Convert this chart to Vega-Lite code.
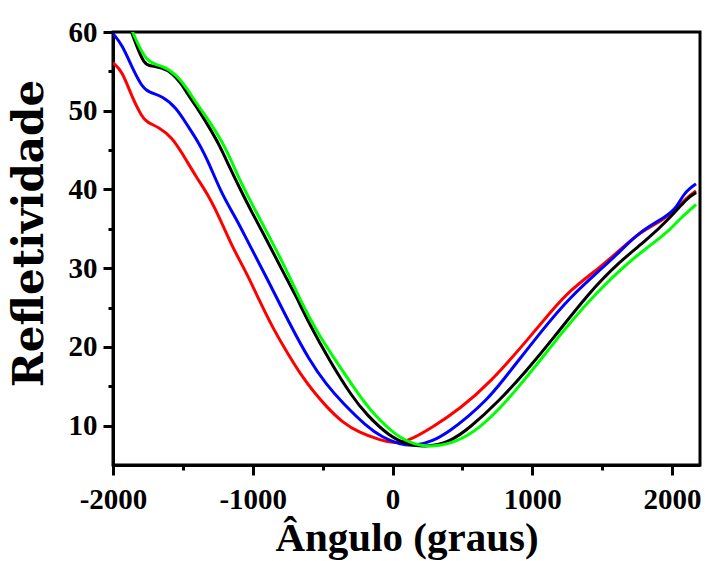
{
  "$schema": "https://vega.github.io/schema/vega-lite/v6.json",
  "width": 587,
  "height": 433,
  "autosize": {"type": "none"},
  "padding": {"left": 113, "top": 32, "right": 5, "bottom": 96},
  "background": "white",
  "config": {
    "view": {"stroke": "black", "strokeWidth": 3},
    "font": "Liberation Serif"
  },
  "data": {
    "values": [
      {"s": "1", "x": -2000, "y": 56.1},
      {"s": "1", "x": -1935, "y": 55.1},
      {"s": "1", "x": -1864, "y": 51.7},
      {"s": "1", "x": -1792, "y": 49.2},
      {"s": "1", "x": -1756, "y": 48.5},
      {"s": "1", "x": -1670, "y": 47.9},
      {"s": "1", "x": -1577, "y": 46.6},
      {"s": "1", "x": -1505, "y": 44.6},
      {"s": "1", "x": -1405, "y": 41.6},
      {"s": "1", "x": -1312, "y": 39.1},
      {"s": "1", "x": -1240, "y": 36.5},
      {"s": "1", "x": -1147, "y": 32.7},
      {"s": "1", "x": -1047, "y": 29.5},
      {"s": "1", "x": -953, "y": 25.9},
      {"s": "1", "x": -860, "y": 22.5},
      {"s": "1", "x": -738, "y": 18.8},
      {"s": "1", "x": -645, "y": 16.2},
      {"s": "1", "x": -573, "y": 14.5},
      {"s": "1", "x": -473, "y": 12.4},
      {"s": "1", "x": -358, "y": 10.4},
      {"s": "1", "x": -237, "y": 9.1},
      {"s": "1", "x": -93, "y": 8.2},
      {"s": "1", "x": 0, "y": 7.8},
      {"s": "1", "x": 100, "y": 7.9},
      {"s": "1", "x": 287, "y": 9.8},
      {"s": "1", "x": 480, "y": 12.1},
      {"s": "1", "x": 695, "y": 15.4},
      {"s": "1", "x": 961, "y": 20.8},
      {"s": "1", "x": 1125, "y": 24.3},
      {"s": "1", "x": 1269, "y": 27.2},
      {"s": "1", "x": 1484, "y": 30.1},
      {"s": "1", "x": 1627, "y": 32.3},
      {"s": "1", "x": 1771, "y": 34.6},
      {"s": "1", "x": 1935, "y": 36.1},
      {"s": "1", "x": 2036, "y": 37.6},
      {"s": "1", "x": 2108, "y": 39.0},
      {"s": "1", "x": 2172, "y": 39.8},

      {"s": "2", "x": -2000, "y": 59.8},
      {"s": "2", "x": -1935, "y": 58.4},
      {"s": "2", "x": -1864, "y": 55.5},
      {"s": "2", "x": -1792, "y": 53.0},
      {"s": "2", "x": -1742, "y": 52.3},
      {"s": "2", "x": -1649, "y": 51.9},
      {"s": "2", "x": -1548, "y": 50.4},
      {"s": "2", "x": -1477, "y": 48.4},
      {"s": "2", "x": -1384, "y": 45.9},
      {"s": "2", "x": -1312, "y": 43.3},
      {"s": "2", "x": -1219, "y": 39.3},
      {"s": "2", "x": -1118, "y": 36.3},
      {"s": "2", "x": -1025, "y": 33.0},
      {"s": "2", "x": -903, "y": 28.9},
      {"s": "2", "x": -738, "y": 23.0},
      {"s": "2", "x": -595, "y": 18.3},
      {"s": "2", "x": -473, "y": 15.2},
      {"s": "2", "x": -358, "y": 12.9},
      {"s": "2", "x": -186, "y": 9.9},
      {"s": "2", "x": -72, "y": 8.5},
      {"s": "2", "x": 50, "y": 7.6},
      {"s": "2", "x": 160, "y": 7.4},
      {"s": "2", "x": 287, "y": 8.0},
      {"s": "2", "x": 409, "y": 9.3},
      {"s": "2", "x": 540, "y": 11.1},
      {"s": "2", "x": 674, "y": 13.3},
      {"s": "2", "x": 767, "y": 15.2},
      {"s": "2", "x": 1082, "y": 22.4},
      {"s": "2", "x": 1269, "y": 26.3},
      {"s": "2", "x": 1505, "y": 30.1},
      {"s": "2", "x": 1627, "y": 32.1},
      {"s": "2", "x": 1771, "y": 34.7},
      {"s": "2", "x": 1964, "y": 36.6},
      {"s": "2", "x": 2036, "y": 37.8},
      {"s": "2", "x": 2079, "y": 39.3},
      {"s": "2", "x": 2130, "y": 40.2},
      {"s": "2", "x": 2172, "y": 40.7},

      {"s": "3", "x": -1900, "y": 61.5},
      {"s": "3", "x": -1871, "y": 60.2},
      {"s": "3", "x": -1835, "y": 58.4},
      {"s": "3", "x": -1778, "y": 56.0},
      {"s": "3", "x": -1742, "y": 55.7},
      {"s": "3", "x": -1649, "y": 55.5},
      {"s": "3", "x": -1577, "y": 54.8},
      {"s": "3", "x": -1513, "y": 53.5},
      {"s": "3", "x": -1455, "y": 51.8},
      {"s": "3", "x": -1384, "y": 50.0},
      {"s": "3", "x": -1312, "y": 47.9},
      {"s": "3", "x": -1240, "y": 45.7},
      {"s": "3", "x": -1168, "y": 42.9},
      {"s": "3", "x": -1097, "y": 40.3},
      {"s": "3", "x": -1004, "y": 37.0},
      {"s": "3", "x": -903, "y": 33.7},
      {"s": "3", "x": -789, "y": 29.7},
      {"s": "3", "x": -700, "y": 26.8},
      {"s": "3", "x": -595, "y": 22.9},
      {"s": "3", "x": -452, "y": 18.3},
      {"s": "3", "x": -287, "y": 13.6},
      {"s": "3", "x": -186, "y": 11.4},
      {"s": "3", "x": -22, "y": 8.6},
      {"s": "3", "x": 122, "y": 7.5},
      {"s": "3", "x": 244, "y": 7.3},
      {"s": "3", "x": 409, "y": 7.9},
      {"s": "3", "x": 552, "y": 9.7},
      {"s": "3", "x": 767, "y": 13.2},
      {"s": "3", "x": 960, "y": 17.0},
      {"s": "3", "x": 1147, "y": 21.0},
      {"s": "3", "x": 1391, "y": 26.6},
      {"s": "3", "x": 1627, "y": 30.9},
      {"s": "3", "x": 1821, "y": 33.6},
      {"s": "3", "x": 1986, "y": 36.4},
      {"s": "3", "x": 2108, "y": 38.9},
      {"s": "3", "x": 2172, "y": 39.6},

      {"s": "4", "x": -1900, "y": 61.7},
      {"s": "4", "x": -1864, "y": 60.2},
      {"s": "4", "x": -1763, "y": 56.0},
      {"s": "4", "x": -1649, "y": 55.8},
      {"s": "4", "x": -1548, "y": 54.6},
      {"s": "4", "x": -1477, "y": 53.0},
      {"s": "4", "x": -1405, "y": 51.0},
      {"s": "4", "x": -1312, "y": 48.7},
      {"s": "4", "x": -1219, "y": 46.1},
      {"s": "4", "x": -1147, "y": 43.4},
      {"s": "4", "x": -1075, "y": 40.5},
      {"s": "4", "x": -975, "y": 37.1},
      {"s": "4", "x": -860, "y": 33.3},
      {"s": "4", "x": -738, "y": 29.0},
      {"s": "4", "x": -667, "y": 26.2},
      {"s": "4", "x": -545, "y": 22.0},
      {"s": "4", "x": -401, "y": 18.1},
      {"s": "4", "x": -237, "y": 13.8},
      {"s": "4", "x": -143, "y": 11.6},
      {"s": "4", "x": 29, "y": 8.6},
      {"s": "4", "x": 172, "y": 7.5},
      {"s": "4", "x": 287, "y": 7.3},
      {"s": "4", "x": 459, "y": 7.9},
      {"s": "4", "x": 624, "y": 9.7},
      {"s": "4", "x": 767, "y": 12.2},
      {"s": "4", "x": 860, "y": 14.0},
      {"s": "4", "x": 1125, "y": 19.8},
      {"s": "4", "x": 1219, "y": 22.0},
      {"s": "4", "x": 1462, "y": 27.0},
      {"s": "4", "x": 1699, "y": 30.9},
      {"s": "4", "x": 1821, "y": 32.6},
      {"s": "4", "x": 1964, "y": 34.5},
      {"s": "4", "x": 2057, "y": 36.3},
      {"s": "4", "x": 2129, "y": 37.4},
      {"s": "4", "x": 2172, "y": 38.1}
    ]
  },
  "resolve": {"axis": {"x": "independent", "y": "independent"}},
  "layer": [
    {
      "mark": {"type": "line", "clip": true, "strokeWidth": 3, "interpolate": "basis"},
      "encoding": {
        "x": {
          "field": "x",
          "type": "quantitative",
          "scale": {"domain": [-2000, 2200], "nice": false, "zero": false},
          "axis": {
            "orient": "bottom",
            "title": "Ângulo (graus)",
            "values": [-2000, -1000, 0, 1000, 2000],
            "labelExpr": "'' + datum.value",
            "grid": false,
            "domainColor": "black",
            "domainWidth": 3,
            "tickColor": "black",
            "tickWidth": 3,
            "tickSize": 10,
            "labelFont": "Liberation Serif",
            "labelFontWeight": "bold",
            "labelFontSize": 29,
            "labelColor": "black",
            "labelBaseline": "alphabetic",
            "labelPadding": 33,
            "labelFlush": false,
            "labelOverlap": false,
            "titleFont": "Liberation Serif",
            "titleFontWeight": "bold",
            "titleFontSize": 41,
            "titleColor": "black",
            "titleBaseline": "alphabetic",
            "titleY": 85
          }
        },
        "y": {
          "field": "y",
          "type": "quantitative",
          "scale": {"domain": [5, 60], "nice": false, "zero": false},
          "axis": {
            "orient": "left",
            "title": "Refletividade",
            "values": [10, 20, 30, 40, 50, 60],
            "grid": false,
            "domainColor": "black",
            "domainWidth": 3,
            "tickColor": "black",
            "tickWidth": 3,
            "tickSize": 10,
            "labelFont": "Liberation Serif",
            "labelFontWeight": "bold",
            "labelFontSize": 29,
            "labelColor": "black",
            "labelPadding": 6,
            "labelFlush": false,
            "labelOverlap": false,
            "titleFont": "DejaVu Serif",
            "titleFontWeight": "bold",
            "titleFontSize": 42,
            "titleColor": "black",
            "titleBaseline": "alphabetic",
            "titleAlign": "center",
            "titleAngle": -90,
            "titleX": -71,
            "titleY": 201
          }
        },
        "color": {
          "field": "s",
          "type": "nominal",
          "scale": {"domain": ["1", "2", "3", "4"], "range": ["#ff0000", "#0000ff", "#000000", "#00ff00"]},
          "legend": null
        },
        "order": {"field": "x", "type": "quantitative"}
      }
    },
    {
      "mark": {"type": "line", "clip": true, "strokeOpacity": 0},
      "encoding": {
        "x": {
          "field": "x",
          "type": "quantitative",
          "axis": {
            "orient": "bottom",
            "title": null,
            "values": [-1500, -500, 500, 1500],
            "labels": false,
            "domain": false,
            "grid": false,
            "tickColor": "black",
            "tickWidth": 3,
            "tickSize": 5
          }
        },
        "y": {
          "field": "y",
          "type": "quantitative",
          "axis": {
            "orient": "left",
            "title": null,
            "values": [15, 25, 35, 45, 55],
            "labels": false,
            "domain": false,
            "grid": false,
            "tickColor": "black",
            "tickWidth": 3,
            "tickSize": 5
          }
        },
        "detail": {"field": "s", "type": "nominal"}
      }
    }
  ]
}
